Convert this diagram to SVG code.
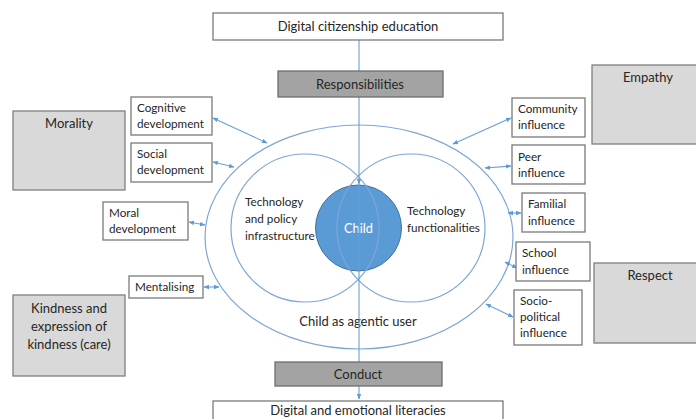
<svg xmlns="http://www.w3.org/2000/svg" width="696" height="419" viewBox="0 0 696 419">
<defs>
<style>
text{font-family:Lato,"Liberation Sans",Arial,sans-serif;fill:#262626;font-size:11.7px}
.box{fill:#fff;stroke:#7a7a7a;stroke-width:1.3}
.dark{fill:#a3a3a3;stroke:#6e6e6e;stroke-width:1.3}
.light{fill:#d9d9d9;stroke:#7f7f7f;stroke-width:1.3}
.ring{fill:none;stroke:#7ea6d6;stroke-width:1.2}
.con{stroke:#6a9fd6;stroke-width:1.1;fill:none}
.c{text-anchor:middle}
.big{font-size:13px}
</style>
<marker id="ah" viewBox="0 0 10 10" refX="9" refY="5" markerWidth="5" markerHeight="5" orient="auto-start-reverse">
<path d="M0,1 L10,5 L0,9 z" fill="#5b9bd5"/>
</marker>
</defs>
<rect width="696" height="419" fill="#fff"/>

<g id="rings">
<ellipse class="ring" cx="359" cy="237" rx="154" ry="112"/>
</g>
<g id="child">
<circle cx="358.5" cy="228" r="43" fill="#5b9bd5" stroke="#41719c" stroke-width="1"/>
<text class="c" x="358.5" y="233" style="fill:#fff;font-size:12.8px">Child</text>
</g>
<g id="infra">
<circle class="ring" cx="305" cy="228" r="74"/>
<text x="245" y="206">Technology</text>
<text x="245" y="223">and policy</text>
<text x="245" y="240">infrastructure</text>
</g>
<g id="func">
<circle class="ring" cx="411" cy="228" r="74"/>
<text x="407" y="215">Technology</text>
<text x="407" y="232">functionalities</text>
</g>
<g id="agentic">
<text class="c big" x="358" y="326">Child as agentic user</text>
</g>

<g id="connectors">
<line class="con" x1="359" y1="40" x2="359" y2="184" marker-end="url(#ah)"/>
<line class="con" x1="359" y1="184" x2="359" y2="399" marker-end="url(#ah)"/>
<line class="con" x1="213" y1="118" x2="267" y2="143" marker-start="url(#ah)" marker-end="url(#ah)"/>
<line class="con" x1="213" y1="162" x2="234" y2="167" marker-start="url(#ah)" marker-end="url(#ah)"/>
<line class="con" x1="189" y1="222" x2="205" y2="225" marker-start="url(#ah)" marker-end="url(#ah)"/>
<line class="con" x1="204" y1="287" x2="219" y2="287" marker-start="url(#ah)" marker-end="url(#ah)"/>
<line class="con" x1="511" y1="118" x2="453" y2="144" marker-start="url(#ah)" marker-end="url(#ah)"/>
<line class="con" x1="511" y1="166" x2="485" y2="168" marker-start="url(#ah)" marker-end="url(#ah)"/>
<line class="con" x1="521" y1="213" x2="508" y2="213" marker-start="url(#ah)" marker-end="url(#ah)"/>
<line class="con" x1="517" y1="268" x2="505" y2="262" marker-start="url(#ah)" marker-end="url(#ah)"/>
<line class="con" x1="513" y1="317" x2="486" y2="304" marker-start="url(#ah)" marker-end="url(#ah)"/>
</g>

<g id="dce">
<rect class="box" x="213" y="13" width="290" height="27"/>
<text class="c big" x="358" y="31">Digital citizenship education</text>
</g>
<g id="responsibilities">
<rect class="dark" x="278" y="71" width="165" height="26"/>
<text class="c big" x="360" y="89">Responsibilities</text>
</g>
<g id="conduct">
<rect class="dark" x="275" y="362" width="167" height="24"/>
<text class="c big" x="358" y="379">Conduct</text>
</g>
<g id="del">
<rect class="box" x="213" y="401" width="290" height="30"/>
<text class="c big" x="358" y="415">Digital and emotional literacies</text>
</g>

<g id="morality">
<rect class="light" x="13" y="111" width="112" height="79"/>
<text class="c big" x="69" y="128">Morality</text>
</g>
<g id="kindness">
<rect class="light" x="13" y="295" width="112" height="81"/>
<text class="c big" x="69" y="313">Kindness and</text>
<text class="c big" x="69" y="331">expression of</text>
<text class="c big" x="69" y="349">kindness (care)</text>
</g>
<g id="empathy">
<rect class="light" x="592" y="65" width="110" height="79"/>
<text class="c big" x="648" y="82">Empathy</text>
</g>
<g id="respect">
<rect class="light" x="594" y="263" width="110" height="80"/>
<text class="c big" x="650" y="280">Respect</text>
</g>

<g id="cognitive">
<rect class="box" x="131" y="97" width="81" height="38"/>
<text x="137" y="112">Cognitive</text>
<text x="137" y="128">development</text>
</g>
<g id="social">
<rect class="box" x="131" y="143" width="81" height="39"/>
<text x="137" y="158">Social</text>
<text x="137" y="174">development</text>
</g>
<g id="moral">
<rect class="box" x="103" y="202" width="85" height="38"/>
<text x="109" y="217">Moral</text>
<text x="109" y="233">development</text>
</g>
<g id="mentalising">
<rect class="box" x="129" y="276" width="74" height="22"/>
<text x="135" y="291">Mentalising</text>
</g>

<g id="community">
<rect class="box" x="512" y="98" width="73" height="39"/>
<text x="518" y="113">Community</text>
<text x="518" y="129">influence</text>
</g>
<g id="peer">
<rect class="box" x="512" y="145" width="73" height="39"/>
<text x="518" y="161">Peer</text>
<text x="518" y="177">influence</text>
</g>
<g id="familial">
<rect class="box" x="522" y="193" width="63" height="39"/>
<text x="528" y="208">Familial</text>
<text x="528" y="225">influence</text>
</g>
<g id="school">
<rect class="box" x="516" y="242" width="74" height="39"/>
<text x="522" y="257">School</text>
<text x="522" y="274">influence</text>
</g>
<g id="socio">
<rect class="box" x="514" y="290" width="68" height="55"/>
<text x="520" y="305">Socio-</text>
<text x="520" y="321">political</text>
<text x="520" y="337">influence</text>
</g>
</svg>
